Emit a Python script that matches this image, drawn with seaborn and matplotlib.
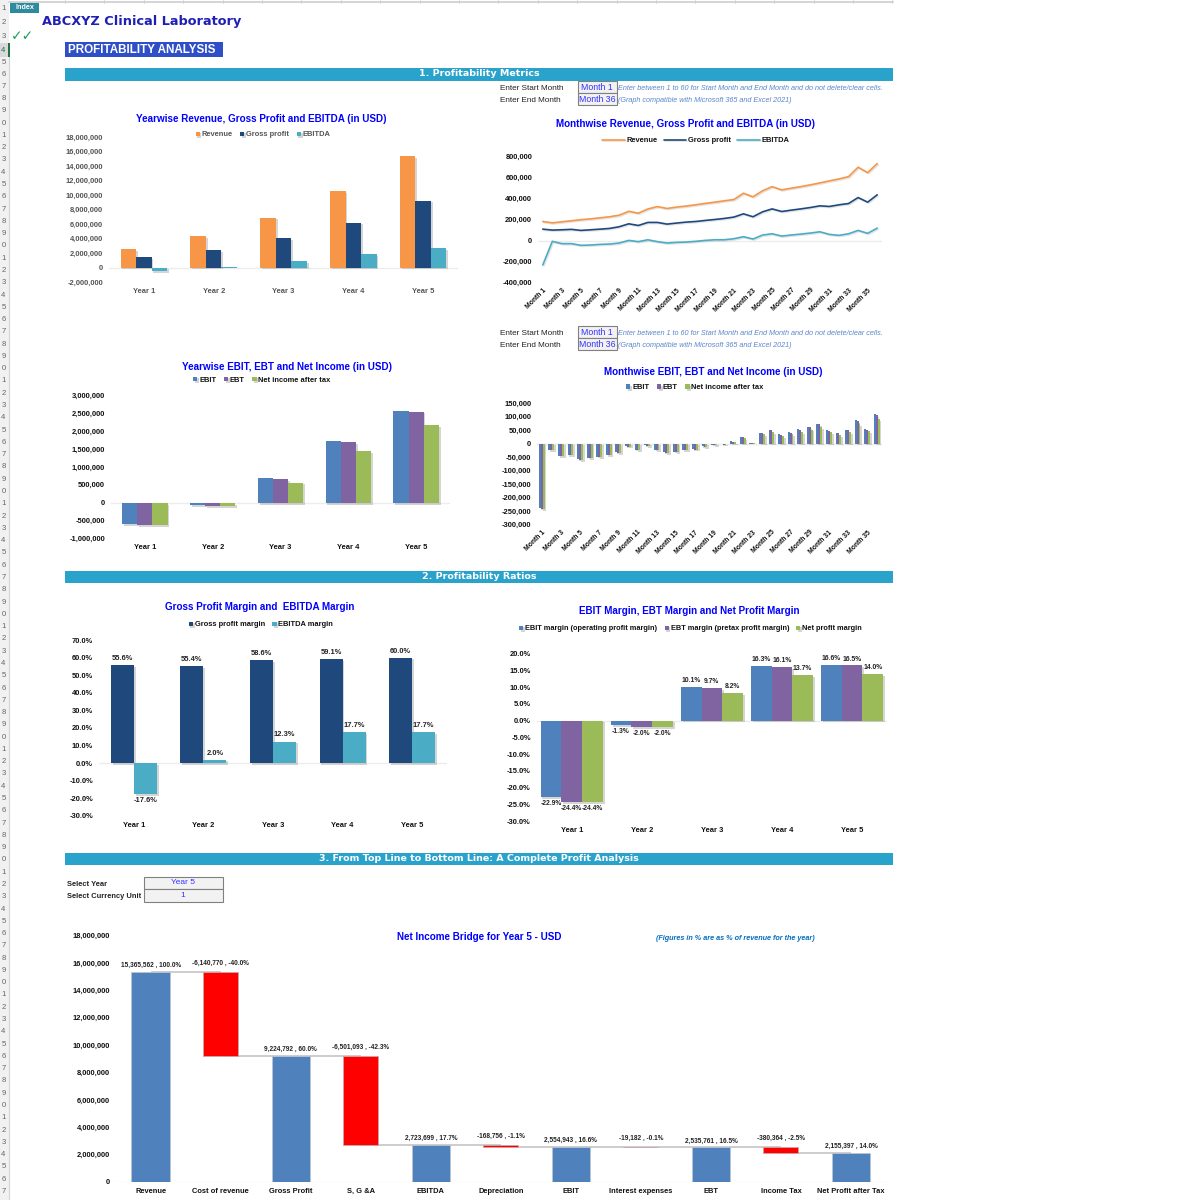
import numpy as np
import pandas as pd
import matplotlib.pyplot as plt
import matplotlib.patheffects as pe
from matplotlib.patches import Rectangle
from matplotlib.ticker import StrMethodFormatter
import seaborn as sns

years = ['Year 1', 'Year 2', 'Year 3', 'Year 4', 'Year 5']
months = [f'Month {i}' for i in range(1, 37)]

# yearly values, USD
revenue_y = [2580000, 4380000, 6870000, 10500000, 15365562]
gross_y = [1430000, 2430000, 4030000, 6200000, 9224792]
ebitda_y = [-450000, 90000, 845000, 1860000, 2723699]
ebit_y = [-590000, -57000, 694000, 1710000, 2554943]
ebt_y = [-630000, -88000, 666000, 1690000, 2535761]
net_y = [-630000, -88000, 563000, 1440000, 2155397]

# monthly values, thousand USD
revenue_m = [183, 170, 180, 190, 200, 208, 218, 228, 243, 280, 262, 302, 325, 307, 320, 330, 342, 355,
             367, 380, 392, 452, 418, 475, 515, 484, 500, 515, 532, 550, 570, 588, 610, 700, 648, 734]
gross_m = [110, 101, 104, 108, 98, 104, 110, 117, 133, 161, 145, 174, 174, 158, 168, 177, 183, 193,
           202, 212, 225, 256, 228, 275, 303, 278, 291, 303, 316, 332, 326, 342, 354, 411, 367, 437]
ebitda_m = [-231, -6, -28, -28, -44, -41, -35, -32, -22, 3, -9, 9, -9, -22, -16, -13, -6, 3,
            9, 9, 19, 38, 16, 54, 66, 44, 54, 63, 73, 85, 60, 51, 66, 98, 70, 120]
ebit_m = [-240, -23, -45, -42, -58, -52, -48, -42, -33, -10, -22, -6, -22, -33, -30, -23, -20, -10,
          -4, -3, 8, 25, 3, 40, 52, 34, 42, 54, 63, 73, 50, 40, 52, 87, 55, 108]
ebt_m = [-243, -24, -46, -44, -60, -54, -49, -44, -35, -11, -24, -8, -25, -36, -32, -25, -22, -12,
         -5, -4, 5, 23, 1, 38, 50, 32, 40, 51, 60, 71, 47, 38, 49, 84, 52, 105]
net_m = [-243, -24, -46, -44, -60, -54, -49, -44, -35, -11, -24, -8, -25, -36, -32, -25, -22, -12,
         -5, -4, 4, 20, 1, 36, 43, 27, 34, 43, 52, 61, 41, 31, 42, 73, 45, 90]

# margins, %
gross_margin = [55.6, 55.4, 58.6, 59.1, 60.0]
ebitda_margin = [-17.6, 2.0, 12.3, 17.7, 17.7]
ebit_margin = [-22.9, -1.3, 10.1, 16.3, 16.6]
ebt_margin = [-24.4, -2.0, 9.7, 16.1, 16.5]
net_margin = [-24.4, -2.0, 8.2, 13.7, 14.0]

bridge_labels = ['Revenue', 'Cost of revenue', 'Gross Profit', 'S, G &A', 'EBITDA', 'Depreciation',
                 'EBIT', 'Interest expenses', 'EBT', 'Income Tax', 'Net Profit after Tax']
bridge_values = [15365562, -6140770, 9224792, -6501093, 2723699, -168756,
                 2554943, -19182, 2535761, -380364, 2155397]
bridge_pct = [100.0, -40.0, 60.0, -42.3, 17.7, -1.1, 16.6, -0.1, 16.5, -2.5, 14.0]

ORANGE, NAVY, TEAL = '#F79646', '#1F497D', '#4BACC6'
BLUE, PURPLE, GREEN = '#4F81BD', '#8064A2', '#9BBB59'
TITLE_BLUE = '#0000FF'
BANNER = '#29A3CC'

sns.set_theme(style='white')
plt.rcParams['font.family'] = ['Liberation Sans', 'DejaVu Sans']
plt.rcParams['axes.unicode_minus'] = False

W, H = 1200, 1200
fig = plt.figure(figsize=(12, 12), dpi=100)

# full page axes in pixel coordinates for the sheet around the charts
sheet = fig.add_axes([0, 0, 1, 1])
sheet.set_xlim(0, W)
sheet.set_ylim(H, 0)
sheet.axis('off')


def box(x0, y0, x1, y1, **kw):
    sheet.add_patch(Rectangle((x0, y0), x1 - x0, y1 - y0, **kw))


def chart_axes(x0, y0, x1, y1):
    ax = fig.add_axes([x0 / W, 1 - y1 / H, (x1 - x0) / W, (y1 - y0) / H])
    ax.patch.set_alpha(0)
    return ax


def long_frame(cats, **series):
    rows = [(c, name, v) for name, vals in series.items() for c, v in zip(cats, vals)]
    return pd.DataFrame(rows, columns=['cat', 'series', 'value'])


def style_axes(ax, yticks, fmt, color='#111111', rotate=False, pad=4):
    ax.set_ylim(yticks[0], yticks[-1])
    ax.set_yticks(yticks)
    ax.yaxis.set_major_formatter(StrMethodFormatter(fmt))
    ax.set_xlabel('')
    ax.set_ylabel('')
    sns.despine(ax=ax, left=True, bottom=True)
    ax.axhline(0, color='#ececec', lw=1, zorder=0.5)
    ax.tick_params(axis='both', length=0, labelsize=5.4, labelcolor=color)
    ax.tick_params(axis='y', pad=4.2)
    ax.tick_params(axis='x', pad=pad)
    for t in ax.get_xticklabels() + ax.get_yticklabels():
        t.set_fontweight('bold')
    if rotate:
        for t in ax.get_xticklabels():
            t.set_rotation(45)
            t.set_ha('right')
            t.set_rotation_mode('anchor')
            t.set_fontsize(4.9)


def put_legend(ax, cx, cy, color='#111111', handlelength=0.55, handleheight=0.55, size=5.4, spacing=1.0):
    handles, labels = ax.get_legend_handles_labels()
    if ax.get_legend():
        ax.get_legend().remove()
    leg = fig.legend(handles, labels, loc='center', bbox_to_anchor=(cx / W, 1 - cy / H), ncol=len(labels),
                     frameon=False, fontsize=size, handlelength=handlelength, handleheight=handleheight,
                     handletextpad=0.25, columnspacing=spacing, borderpad=0)
    for t in leg.get_texts():
        t.set_fontweight('bold')
        t.set_color(color)


def bars(pos, cats, series, palette, width, yticks, fmt, color='#111111'):
    ax = chart_axes(*pos)
    data = long_frame(cats, **series)
    sns.barplot(data=data, x='cat', y='value', hue='series', order=cats, hue_order=list(series),
                palette=palette, width=width, gap=0, saturation=1, errorbar=None, linewidth=0, ax=ax)
    shadow = [pe.SimplePatchShadow(offset=(1.3, -1.3), shadow_rgbFace='#888888', alpha=0.35), pe.Normal()]
    for p in ax.patches:
        p.set_path_effects(shadow)
    ax.set_xlim(-0.5, len(cats) - 0.5)
    style_axes(ax, yticks, fmt, color=color)
    return ax


def chart_title(text, cx, cy):
    sheet.text(cx, cy, text, color=TITLE_BLUE, fontsize=7.1, fontweight='bold', ha='center', va='center')


# ---- sheet furniture ----
box(0, 0, 9, H, fc='#f1f1f1', ec='none')
box(0, 43, 8, 57, fc='#d9d9d9', ec='none')
box(8, 43, 9.5, 57, fc='#217346', ec='none')
sheet.plot([9, 9], [57, H], color='#d4d4d4', lw=0.8)
sheet.plot([9, 893], [1.5, 1.5], color='#d4d4d4', lw=1.4)
for gx in np.arange(65, 893, 39.4):
    sheet.plot([gx, gx], [0, 3], color='#cfcfcf', lw=0.6)
row_ys = [8, 22, 36, 50, 63] + [74 + 12.28 * k for k in range(0, 92)]
for n, ry in enumerate(row_ys, start=1):
    if ry < H - 4:
        sheet.text(3.5, ry, str(n % 10), fontsize=5.6, color='#217346' if n == 4 else '#666666',
                   ha='center', va='center')

box(10, 2, 39, 13, fc='#2E8B9E', ec='none')
sheet.text(24.5, 7.5, 'Index', color='white', fontsize=5.2, fontweight='bold', ha='center', va='center')
sheet.text(23, 36, '\u2713\u2713', color='#1E9E5A', fontsize=10, ha='center', va='center', family='DejaVu Sans')
sheet.text(42, 21, 'ABCXYZ Clinical Laboratory', color='#1F1FB5', fontsize=9.3, fontweight='bold',
           va='center', family='DejaVu Sans')
box(65, 42, 222.7, 56.5, fc='#2F4FC8', ec='none')
sheet.text(67.5, 49.8, 'PROFITABILITY ANALYSIS', color='white', fontsize=8.4, fontweight='bold', va='center')

for y0, label in [(68.3, '1. Profitability Metrics'), (570.5, '2. Profitability Ratios'),
                  (852.7, '3. From Top Line to Bottom Line: A Complete Profit Analysis')]:
    box(65, y0, 893, y0 + 12.7, fc=BANNER, ec='none')
    sheet.text(479, y0 + 5.7, label, color='white', fontsize=6.8, fontweight='bold', ha='center', va='center',
               family='DejaVu Sans')

for y0 in (80.7, 325.7):
    for k, (lab, val, hint) in enumerate([
        ('Enter Start Month', 'Month 1',
         'Enter between 1 to 60 for Start Month and End Month and do not delete/clear cells.'),
        ('Enter End Month', 'Month 36', '(Graph compatible with Microsoft 365 and Excel 2021)'),
    ]):
        top = y0 + k * 12.2
        box(577.7, top, 616.7, top + 12.2, fc='#f2f2f2', ec='#808080', lw=0.8)
        sheet.text(500, top + 8, lab, fontsize=5.9, color='#222222', va='center')
        sheet.text(597, top + 6.8, val, fontsize=6.3, color='#3333ff', ha='center', va='center')
        sheet.text(618.5, top + 8, hint, fontsize=5.25, color='#5a86cc', style='italic', va='center')

sheet.text(66.6, 884.5, 'Select Year', fontsize=5.4, fontweight='bold', color='#222222', va='center')
sheet.text(66.6, 896.5, 'Select Currency Unit', fontsize=5.4, fontweight='bold', color='#222222', va='center')
for k, val in enumerate(['Year 5', '1']):
    top = 877 + k * 12.4
    box(144, top, 223, top + 12.4, fc='#f2f2f2', ec='#808080', lw=0.8)
    sheet.text(183, top + 6, val, fontsize=6, color='#3333ff', ha='center', va='center')

# ---- 1. Yearwise revenue ----
chart_title('Yearwise Revenue, Gross Profit and EBITDA (in USD)', 261, 119)
ax = bars((109, 137, 458, 282), years, {'Revenue': revenue_y, 'Gross profit': gross_y, 'EBITDA': ebitda_y},
          [ORANGE, NAVY, TEAL], 0.667, np.arange(-2000000, 18000001, 2000000), '{x:,.0f}', color='#555555')
put_legend(ax, 263, 135, color='#555555')

# ---- 2. Monthwise revenue ----
chart_title('Monthwise Revenue, Gross Profit and EBITDA (in USD)', 686, 124)
ax = chart_axes(538, 156.7, 882, 282.7)
data = long_frame(months, Revenue=np.array(revenue_m) * 1000, **{'Gross profit': np.array(gross_m) * 1000},
                  EBITDA=np.array(ebitda_m) * 1000)
sns.lineplot(data=data, x='cat', y='value', hue='series', palette=[ORANGE, NAVY, TEAL], sort=False,
             errorbar=None, lw=1.2, ax=ax)
for line in ax.get_lines():
    line.set_path_effects([pe.SimpleLineShadow(offset=(0.8, -0.8), alpha=0.12), pe.Normal()])
ax.set_xlim(-0.5, 35.5)
ax.set_xticks(range(0, 36, 2), months[::2])
style_axes(ax, np.arange(-400000, 800001, 200000), '{x:,.0f}', rotate=True, pad=3)
put_legend(ax, 695.7, 141, handlelength=3, handleheight=0.5, spacing=0.8)

# ---- 3. Yearwise EBIT ----
chart_title('Yearwise EBIT, EBT and Net Income (in USD)', 286.7, 367)
ax = bars((111, 395, 450, 538.7), years, {'EBIT': ebit_y, 'EBT': ebt_y, 'Net income after tax': net_y},
          [BLUE, PURPLE, GREEN], 0.667, np.arange(-1000000, 3000001, 500000), '{x:,.0f}')
put_legend(ax, 262, 380)

# ---- 4. Monthwise EBIT ----
chart_title('Monthwise EBIT, EBT and Net Income (in USD)', 713, 371.7)
ax = bars((537, 403, 881.5, 524.7), months,
          {'EBIT': np.array(ebit_m) * 1000, 'EBT': np.array(ebt_m) * 1000,
           'Net income after tax': np.array(net_m) * 1000},
          [BLUE, PURPLE, GREEN], 0.6, np.arange(-300000, 150001, 50000), '{x:,.0f}')
ax.set_xticks(range(0, 36, 2), months[::2])
style_axes(ax, np.arange(-300000, 150001, 50000), '{x:,.0f}', rotate=True, pad=3)
put_legend(ax, 695, 387.7)

# ---- 5. Gross and EBITDA margin ----
chart_title('Gross Profit Margin and  EBITDA Margin', 260, 607)
ax = bars((99, 640, 447, 816), years, {'Gross profit margin': gross_margin, 'EBITDA margin': ebitda_margin},
          [NAVY, TEAL], 0.66, np.arange(-30, 71, 10), '{x:.1f}%')
for c in ax.containers:
    ax.bar_label(c, fmt='%.1f%%', padding=2.2, fontsize=5.4, fontweight='bold', color='#222222')
put_legend(ax, 261, 625, spacing=1.0)

# ---- 6. EBIT, EBT and net margin ----
chart_title('EBIT Margin, EBT Margin and Net Profit Margin', 689, 610.7)
ax = bars((536.7, 653.7, 887, 821), years,
          {'EBIT margin (operating profit margin)': ebit_margin, 'EBT margin (pretax profit margin)': ebt_margin,
           'Net profit margin': net_margin},
          [BLUE, PURPLE, GREEN], 0.886, np.arange(-30, 21, 5), '{x:.1f}%')
for c in ax.containers:
    ax.bar_label(c, fmt='%.1f%%', padding=2, fontsize=4.9, fontweight='bold', color='#222222')
put_legend(ax, 690.7, 629, size=5.3)

# ---- 7. Net income bridge ----
chart_title('Net Income Bridge for Year 5 - USD', 479, 936.5)
sheet.text(735, 938.7, '(Figures in % are as % of revenue for the year)', color='#0070C0', fontsize=5.2,
           fontweight='bold', style='italic', ha='center', va='center')
ax = chart_axes(115.7, 935.7, 886, 1182)
vals = np.array(bridge_values)
is_total = vals > 0
levels = vals.astype(float).copy()
for i in np.where(~is_total)[0]:
    levels[i] = vals[i - 1] + vals[i]  # where the bar ends up after the deduction
bridge = pd.DataFrame({'cat': bridge_labels, 'height': np.abs(vals), 'level': levels, 'total': is_total,
                       'note': [f'{v:,.0f} , {p:.1f}%' for v, p in zip(bridge_values, bridge_pct)]})
ups = bridge[bridge['total']]
downs = bridge[~bridge['total']]
sns.barplot(data=ups, x='cat', y='height', order=bridge_labels, color=BLUE, saturation=1, width=0.55,
            errorbar=None, edgecolor='#b9c4d2', linewidth=0.6, ax=ax)
sns.barplot(data=downs, x='cat', y='height', order=bridge_labels, color='#FF0000', saturation=1, width=0.5,
            errorbar=None, bottom=downs['level'].to_numpy(), edgecolor='#c9a8a8', linewidth=0.6, ax=ax)
ax.hlines(levels[:-1], np.arange(10), np.arange(1, 11), color='#c9c9c9', lw=1.3, zorder=0.6)
ax.bar_label(ax.containers[0], labels=ups['note'].tolist(), padding=2, fontsize=4.7, fontweight='bold',
             color='#222222')
ax.bar_label(ax.containers[1], labels=downs['note'].tolist(), padding=3.8, fontsize=4.7, fontweight='bold',
             color='#222222')
ax.set_xlim(-0.5, 10.5)
style_axes(ax, np.arange(0, 18000001, 2000000), '{x:,.0f}')

plt.savefig('out.png', dpi=100)
